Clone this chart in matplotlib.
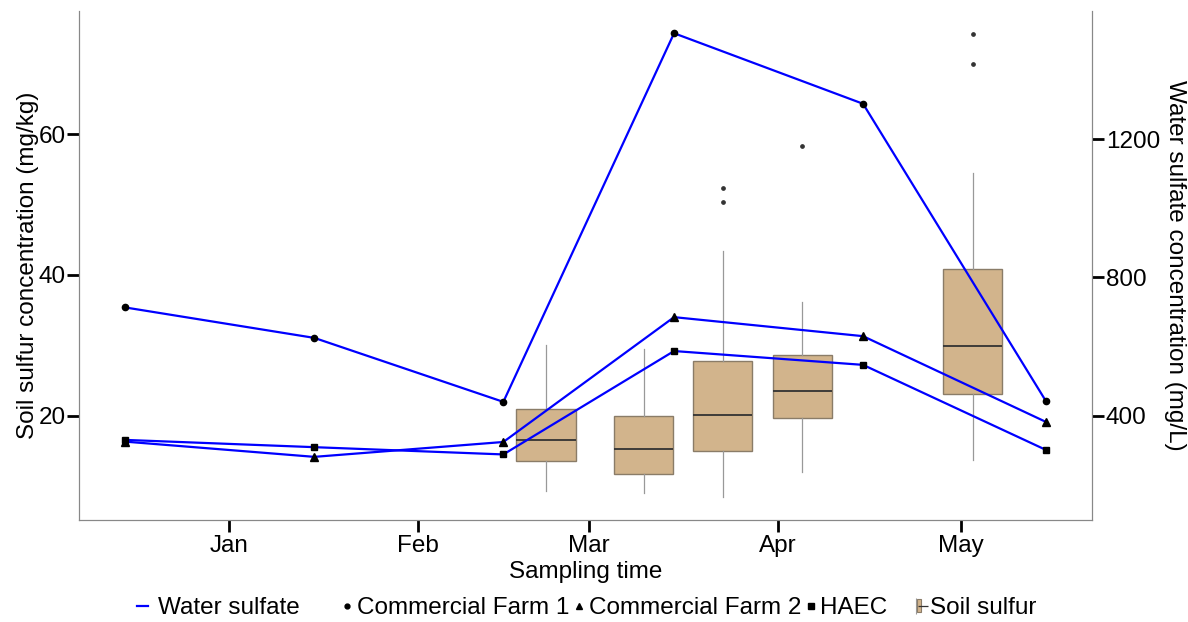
#!/usr/bin/env python3
# plot.py - soil sulfur boxplots with water sulfate lines on a second axis

import datetime
import matplotlib
matplotlib.use('Agg')
import matplotlib.pyplot as plt
import matplotlib.dates as mdates
from matplotlib.lines import Line2D
from matplotlib.patches import Patch
from matplotlib.legend_handler import HandlerTuple

plt.rcParams['font.family'] = ['Liberation Sans', 'DejaVu Sans']

# water sulfate sampling dates and values (mg/L)
water_dates = ['2014-12-15', '2015-01-15', '2015-02-15', '2015-03-15', '2015-04-15', '2015-05-15']
farm1 = [713, 625, 440, 1506, 1302, 442]
farm2 = [325, 281, 324, 685, 630, 382]
haec = [330, 309, 288, 587, 547, 301]

# soil sulfur boxplot stats (mg/kg)
soil_dates = ['2015-02-22', '2015-03-10', '2015-03-23', '2015-04-05', '2015-05-03']
soil_whislo = [9.3, 9.05, 8.43, 11.9, 13.64]
soil_q1 = [13.5, 11.75, 15.02, 19.62, 23.13]
soil_med = [16.53, 15.25, 20.14, 23.46, 29.95]
soil_q3 = [21.0, 20.0, 27.76, 28.57, 40.9]
soil_whishi = [30.0, 29.53, 43.4, 36.21, 54.55]
soil_fliers = [[], [], [52.32, 50.33], [58.3], [74.26, 70.05]]

FS = 17.5


def to_num(dates):
    return [mdates.date2num(datetime.datetime.strptime(d, '%Y-%m-%d')) for d in dates]


fig = plt.figure(figsize=(11.88, 6.22), dpi=100)
ax = fig.add_axes([79.3 / 1188, 102 / 622, (1092 - 79.3) / 1188, 509 / 622])

stats = []
for i in range(len(soil_dates)):
    stats.append({'whislo': soil_whislo[i], 'q1': soil_q1[i], 'med': soil_med[i],
                  'q3': soil_q3[i], 'whishi': soil_whishi[i], 'fliers': soil_fliers[i]})

ax.bxp(stats, positions=to_num(soil_dates), widths=9.7, patch_artist=True,
       showcaps=False, manage_ticks=False,
       boxprops=dict(facecolor='#D2B48C', edgecolor='#8a7c68', linewidth=1.0),
       medianprops=dict(color='#333333', linewidth=1.3),
       whiskerprops=dict(color='#999999', linewidth=0.9),
       flierprops=dict(marker='o', markersize=2.4, markerfacecolor='#333333',
                       markeredgecolor='#333333'))

ax.set_ylim(5.14, 77.55)
ax.set_yticks([20, 40, 60])
xmin = mdates.date2num(datetime.datetime(2014, 12, 15)) - 7.55
xmax = mdates.date2num(datetime.datetime(2015, 5, 15)) + 7.55
ax.set_xlim(xmin, xmax)
ax.xaxis.set_major_locator(mdates.MonthLocator())
ax.xaxis.set_major_formatter(mdates.DateFormatter('%b'))

ax2 = ax.twinx()
wx = to_num(water_dates)
ax2.plot(wx, farm1, color='blue', lw=1.6, marker='o', ms=4.5, mfc='black', mec='black', zorder=3)
ax2.plot(wx, farm2, color='blue', lw=1.6, marker='^', ms=5.5, mfc='black', mec='black', zorder=3)
ax2.plot(wx, haec, color='blue', lw=1.6, marker='s', ms=4.5, mfc='black', mec='black', zorder=3)
ax2.set_ylim(98.4, 1570.3)
ax2.set_yticks([400, 800, 1200])

for a in (ax, ax2):
    a.spines['top'].set_visible(False)
    for s in ('left', 'right', 'bottom'):
        a.spines[s].set_color('#888888')
        a.spines[s].set_linewidth(0.8)
    a.tick_params(axis='both', length=8.5, width=2, color='black', labelsize=FS, pad=1.5)
ax.tick_params(axis='x', pad=2)

ax.set_xlabel('Sampling time', fontsize=FS)
ax.xaxis.set_label_coords(0.5, -0.08)
ax.set_ylabel('Soil sulfur concentration (mg/kg)', fontsize=FS, va='center')
ax.yaxis.set_label_coords(-0.051, 0.5)
ax2.set_ylabel('Water sulfate concentration (mg/L)', fontsize=FS, rotation=270, va='center')
ax2.yaxis.set_label_coords(1.082, 0.5)

# three legends side by side like ggplot
ly = 1 - 608 / 622
common = dict(frameon=False, fontsize=FS, borderpad=0, borderaxespad=0, loc='center left')

leg1 = fig.legend([Line2D([], [], color='blue', lw=1.6)], ['Water sulfate'],
                  bbox_to_anchor=(137 / 1188, ly), handlelength=0.45, handletextpad=0.4, **common)

mk = [Line2D([], [], ls='none', marker='o', ms=3.5, color='black'),
      Line2D([], [], ls='none', marker='^', ms=4.5, color='black'),
      Line2D([], [], ls='none', marker='s', ms=4, color='black')]
leg2 = fig.legend(mk, ['Commercial Farm 1', 'Commercial Farm 2', 'HAEC'], ncol=3,
                  bbox_to_anchor=(341 / 1188, ly), handlelength=0.5, handletextpad=0.15,
                  columnspacing=0.15, **common)

box_h = (Line2D([], [], ls='none', marker='|', ms=12, mew=0.8, color='#999999'),
         Patch(facecolor='#D2B48C', edgecolor='#8a7c68', lw=0.8),
         Line2D([], [], ls='none', marker='_', ms=7, mew=0.9, color='#333333'))
leg3 = fig.legend([box_h], ['Soil sulfur'], bbox_to_anchor=(914 / 1188, ly),
                  handlelength=0.42, handleheight=0.45, handletextpad=0.25,
                  handler_map={tuple: HandlerTuple(ndivide=None)}, **common)

fig.savefig('out.png', dpi=100)
